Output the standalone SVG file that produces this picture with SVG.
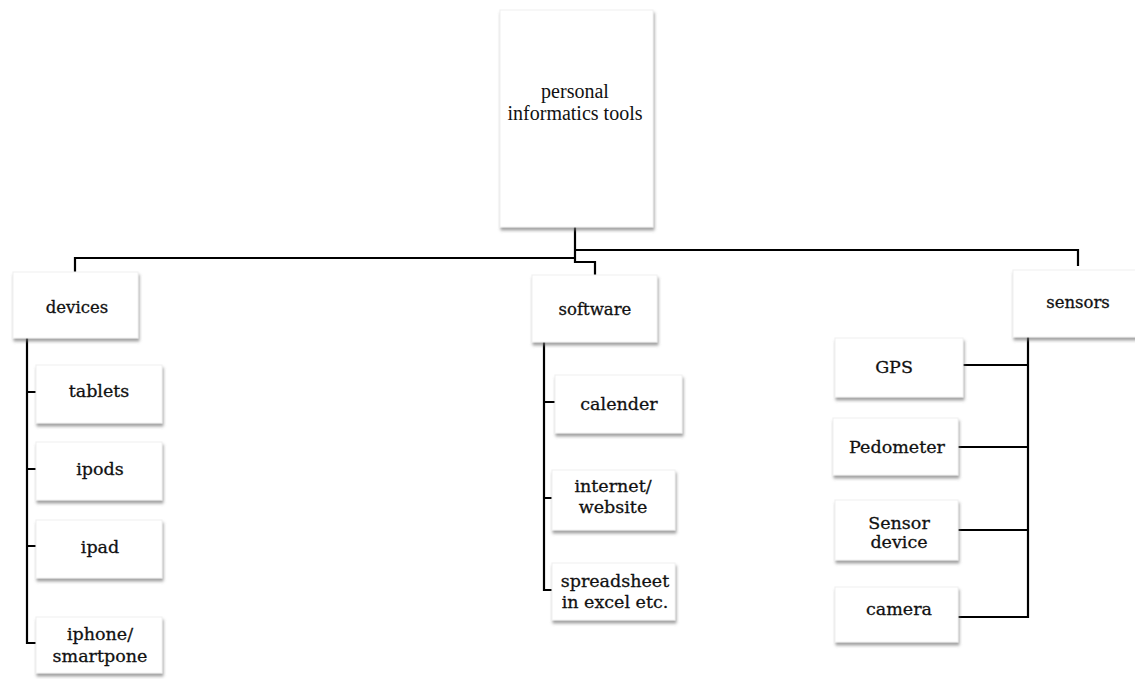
<svg xmlns="http://www.w3.org/2000/svg" width="1135" height="679" viewBox="0 0 1135 679">
<style>
.box{fill:#ffffff;stroke:#f0f0f0;stroke-width:1;filter:url(#sh)}
.t{font-family:"DejaVu Serif","Liberation Serif",serif;font-size:17.5px;fill:#111;stroke:#111;stroke-width:0.3;text-anchor:middle}
.p{font-family:"DejaVu Serif","Liberation Serif",serif;font-size:16.5px;fill:#111;stroke:#111;stroke-width:0.3;text-anchor:middle}
.r{font-family:"Liberation Serif","Times New Roman",serif;font-size:20px;fill:#111;text-anchor:middle}
.c{fill:none;stroke:#000;stroke-width:2.2}
</style>
<defs>
<filter id="sh" x="-10%" y="-10%" width="125%" height="140%">
<feDropShadow dx="1" dy="3" stdDeviation="1.6" flood-color="#6e6e6e" flood-opacity="0.65"/>
</filter>
</defs>
<rect width="1135" height="679" fill="#ffffff"/>
<g id="connectors">
<path class="c" d="M575,227 V262 H595 V275"/>
<path class="c" d="M575,250 H1078 V266"/>
<path class="c" d="M575,258 H75 V272"/>
<path class="c" d="M27,338 V643 H37 M27,392 H37 M27,469 H37 M27,546 H37"/>
<path class="c" d="M544,342 V590 H553 M544,402 H555 M544,498 H552"/>
<path class="c" d="M1028,337 V617 H958 M1028,365 H963 M1028,447 H958 M1028,530 H958"/>
</g>
<g id="root"><rect class="box" x="500" y="10" width="153" height="217"/><text class="r" x="575" y="98">personal</text><text class="r" x="575" y="120">informatics tools</text></g>
<g id="devices"><rect class="box" x="13" y="272" width="125" height="66"/><text class="p" x="77" y="313">devices</text></g>
<g id="tablets"><rect class="box" x="36" y="365" width="126" height="58"/><text class="t" x="99" y="397">tablets</text></g>
<g id="ipods"><rect class="box" x="36" y="442" width="126" height="58"/><text class="t" x="100" y="475">ipods</text></g>
<g id="ipad"><rect class="box" x="36" y="520" width="126" height="58"/><text class="t" x="100" y="553">ipad</text></g>
<g id="iphone"><rect class="box" x="36" y="617" width="126" height="56"/><text class="t" x="100" y="640">iphone/</text><text class="t" x="100" y="662">smartpone</text></g>
<g id="software"><rect class="box" x="532" y="275" width="125" height="67"/><text class="p" x="595" y="315">software</text></g>
<g id="calender"><rect class="box" x="555" y="375" width="127" height="58"/><text class="t" x="619" y="410">calender</text></g>
<g id="internet"><rect class="box" x="552" y="470" width="123" height="60"/><text class="t" x="613" y="492">internet/</text><text class="t" x="613" y="513">website</text></g>
<g id="spreadsheet"><rect class="box" x="552" y="563" width="123" height="57"/><text class="t" x="615" y="587">spreadsheet</text><text class="t" x="615" y="608">in excel etc.</text></g>
<g id="sensors"><rect class="box" x="1013" y="270" width="124" height="67"/><text class="p" x="1078" y="308">sensors</text></g>
<g id="gps"><rect class="box" x="835" y="338" width="128" height="59"/><text class="t" x="894" y="373">GPS</text></g>
<g id="pedometer"><rect class="box" x="833" y="418" width="125" height="57"/><text class="t" x="897" y="453">Pedometer</text></g>
<g id="sensordevice"><rect class="box" x="835" y="500" width="123" height="60"/><text class="t" x="899" y="529">Sensor</text><text class="t" x="899" y="548">device</text></g>
<g id="camera"><rect class="box" x="835" y="587" width="123" height="55"/><text class="t" x="899" y="615">camera</text></g>
</svg>
